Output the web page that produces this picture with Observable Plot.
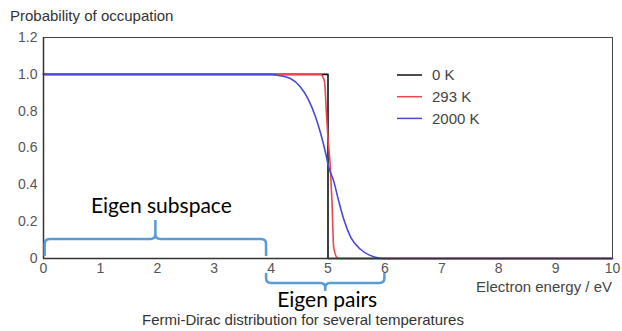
<!DOCTYPE html>
<html><head><meta charset="utf-8">
<script src="https://cdn.jsdelivr.net/npm/d3@7"></script>
<script src="https://cdn.jsdelivr.net/npm/@observablehq/plot@0.6"></script>
<style>
body{margin:0;background:#fff;}
#chart{position:relative;width:622px;height:331px;}
</style>
</head><body><div id="chart"></div>
<script>
// ---- data ----
const energy0K   = [0, 5, 5, 10];
const occ0K      = [1, 1, 0, 0];
const energy293K = [0, 4.87, 4.94, 4.97, 5.0, 5.04, 5.07, 5.1, 5.16, 5.2, 10];
const occ293K    = [1, 1, 0.96, 0.80, 0.65, 0.5, 0.31, 0.06, 0.005, 0, 0];
const energy2000K = [0, 4.0, 4.11, 4.34, 4.52, 4.66, 4.78, 4.87, 4.96, 5.01, 5.1, 5.19, 5.28, 5.4, 5.57, 5.8, 5.97, 10];
const occ2000K    = [1, 1, 0.995, 0.977, 0.93, 0.86, 0.77, 0.68, 0.57, 0.5, 0.42, 0.31, 0.21, 0.115, 0.05, 0.01, 0, 0];
const seriesLabels = ["0 K", "293 K", "2000 K"];
const xTicks = [0, 1, 2, 3, 4, 5, 6, 7, 8, 9, 10];
const yTicks = [0, 0.2, 0.4, 0.6, 0.8, 1.0, 1.2];
const braceStart = [0.03, 3.92];
const braceEnd   = [3.92, 6.0];
const braceLabels = ["Eigen subspace", "Eigen pairs"];
const titleText = "Probability of occupation";
const xLabelText = "Electron energy / eV";
const captionText = "Fermi-Dirac distribution for several temperatures";

// ---- build rows ----
const colors = ["#111111", "#ee4450", "#4a4ad8"];
const curves = ["linear", "monotone-x", "monotone-x"];
const energies = [energy0K, energy293K, energy2000K];
const occs = [occ0K, occ293K, occ2000K];
const seriesRows = energies.map((es, s) => es.map((e, i) => ({energy: e, occ: occs[s][i], label: seriesLabels[s]})));

const font = "'Liberation Sans', Arial, sans-serif";
const plot = Plot.plot({
  width: 622, height: 331,
  marginTop: 37, marginRight: 10, marginBottom: 73, marginLeft: 43,
  style: {fontFamily: font, fontSize: "14px", color: "#555", background: "white", overflow: "visible"},
  x: {domain: [0, 10], ticks: xTicks, tickSize: 0, tickPadding: 5, label: null},
  y: {domain: [0, 1.2], ticks: yTicks, tickSize: 0, tickPadding: 6, label: null,
      tickFormat: d => d === 0 ? "0" : d.toFixed(1)},
  marks: [
    Plot.frame({stroke: "#444", strokeWidth: 1}),
    ...seriesRows.map((rows, s) => Plot.line(rows, {x: "energy", y: "occ", stroke: colors[s], strokeWidth: 1.6, curve: curves[s]})),
    Plot.ruleX([0], {stroke: "#333", strokeWidth: 1.5}),
    Plot.ruleY([0], {stroke: "#333", strokeWidth: 1.5})
  ]
});
document.getElementById("chart").appendChild(plot);

// ---- annotations using the plot's scales ----
const X = plot.scale("x"), Y = plot.scale("y");
const svg = d3.select(plot);
const axisY = Y.apply(0);
const xRight = X.apply(10);

function bracePath(x1, x2, base, bar, tip, r) {
  const s = Math.sign(bar - base);
  const mid = (x1 + x2) / 2;
  return `M${x1},${base} V${bar - s * r} Q${x1},${bar} ${x1 + r},${bar} H${mid - r} Q${mid},${bar} ${mid},${bar + s * r} V${tip}` +
         ` M${mid},${bar + s * r} Q${mid},${bar} ${mid + r},${bar} H${x2 - r} Q${x2},${bar} ${x2},${bar - s * r} V${base}`;
}
const braceGeom = [
  {base: axisY - 2, bar: axisY - 19, tip: axisY - 38, labelY: axisY - 45, dx: 6},
  {base: axisY + 15, bar: axisY + 25, tip: axisY + 33, labelY: axisY + 49, dx: 2}
];
braceStart.forEach((b, i) => {
  const x1 = X.apply(b), x2 = X.apply(braceEnd[i]);
  const g = braceGeom[i];
  svg.append("path").attr("d", bracePath(x1, x2, g.base, g.bar, g.tip, 5))
    .attr("fill", "none").attr("stroke", "#5b9bd5").attr("stroke-width", 2.5).attr("stroke-linejoin", "round");
  svg.append("text").attr("x", (x1 + x2) / 2 + g.dx).attr("y", g.labelY)
    .attr("text-anchor", "middle").attr("font-family", "Lato, 'Open Sans', sans-serif")
    .attr("font-size", 21).attr("fill", "#000").text(braceLabels[i]);
});

function addText(x, y, anchor, size, fill, str) {
  return svg.append("text").attr("x", x).attr("y", y).attr("text-anchor", anchor)
    .attr("font-family", font).attr("font-size", size).attr("fill", fill).text(str);
}
addText(10, 21, "start", 15, "#333", titleText);
addText(xRight, 292, "end", 15, "#444", xLabelText);
addText(303, 325, "middle", 15, "#333", captionText);

// legend
seriesLabels.forEach((lab, i) => {
  const cy = 75 + i * 21.7;
  svg.append("line").attr("x1", 397).attr("x2", 422).attr("y1", cy).attr("y2", cy)
    .attr("stroke", colors[i]).attr("stroke-width", 1.5);
  addText(432, cy, "start", 15, "#444", lab).attr("dy", "0.35em");
});
</script>
</body></html>
